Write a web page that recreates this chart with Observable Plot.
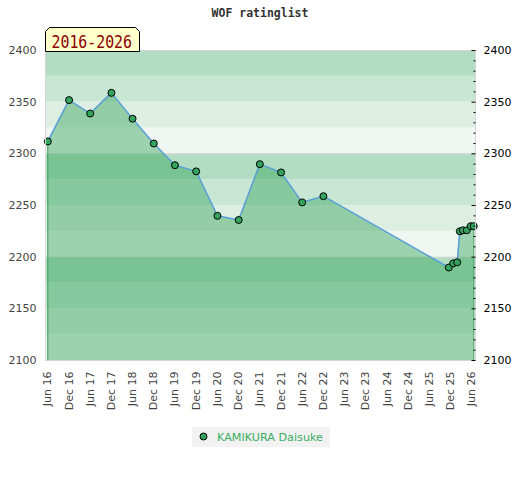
<!DOCTYPE html>
<html><head><meta charset="utf-8">
<script src="https://cdn.jsdelivr.net/npm/d3@7"></script>
<script src="https://cdn.jsdelivr.net/npm/@observablehq/plot@0.6"></script>
<style>
body{margin:0;background:#fff;}
#wrap{position:relative;width:520px;height:480px;}
#chart{position:absolute;left:0;top:0;}
#overlay{position:absolute;left:0;top:0;pointer-events:none;}
</style>
</head><body>
<div id="wrap">
<div id="chart"></div>
<svg id="overlay" width="520" height="480">
 <text x="260" y="16.5" text-anchor="middle" font-family="DejaVu Sans Mono" font-weight="bold" font-size="11.5" fill="#333">WOF ratinglist</text>
 <path d="M45.5,51.5V31.5L49.5,27.5H135.5L139.5,31.5V51.5Z" fill="#ffffcc" stroke="#000"/>
 <text x="51.5" y="48" font-family="DejaVu Sans Mono" font-size="17" textLength="80.5" lengthAdjust="spacingAndGlyphs" fill="#8b0000">2016-2026</text>
 <rect x="192" y="427" width="138" height="20" fill="#f2f2f2"/>
 <circle cx="203.5" cy="436.5" r="3.5" fill="#33a35e" stroke="#000"/>
 <text x="217" y="440.5" font-family="DejaVu Sans" font-size="11.2" fill="#3aae62">KAMIKURA Daisuke</text>
</svg>
</div>
<script>
const dates = ["2016-06-01","2016-12-01","2017-06-01","2017-12-01","2018-06-01","2018-12-01",
  "2019-06-01","2019-12-01","2020-06-01","2020-12-01","2021-06-01","2021-12-01","2022-06-01","2022-12-01",
  "2025-11-15","2025-12-23","2026-01-26","2026-02-18","2026-03-16","2026-04-19","2026-05-23","2026-06-18"];
const ratings = [2312,2352,2339,2359,2334,2310,2289,2283,2240,2236,2290,2282,2253,2259,
  2190,2194,2195,2225,2226,2226,2230,2230];
const xTickDates = ["2016-06-01","2016-12-01","2017-06-01","2017-12-01","2018-06-01","2018-12-01",
  "2019-06-01","2019-12-01","2020-06-01","2020-12-01","2021-06-01","2021-12-01","2022-06-01","2022-12-01",
  "2023-06-01","2023-12-01","2024-06-01","2024-12-01","2025-06-01","2025-12-01","2026-06-01"];
const yMajor = [2100,2150,2200,2250,2300,2350,2400];
const yMinor = [2110,2120,2130,2140,2160,2170,2180,2190,2210,2220,2230,2240,2260,2270,2280,2290,
  2310,2320,2330,2340,2360,2370,2380,2390];
const yGrid = [2100,2200,2300,2400];
const bandLow  = [2100,2125,2150,2175,2200,2225,2250,2275,2300,2325,2350,2375];
const bandHigh = [2125,2150,2175,2200,2225,2250,2275,2300,2325,2350,2375,2400];
const bandFill = ["#f0f7f2","#ddeee3","#c8e6d4","#b3ddc3","#f0f7f2","#ddeee3","#c8e6d4","#b3ddc3",
  "#f0f7f2","#ddeee3","#c8e6d4","#b3ddc3"];

const data = dates.map((d,i)=>({date:new Date(d), rating:ratings[i]}));
const bands = bandLow.map((lo,i)=>({y1:lo, y2:bandHigh[i], fill:bandFill[i]}));
const base = 2100;
const fmt = d => String(d);

const chart = Plot.plot({
  width:520, height:480,
  marginTop:50, marginBottom:120, marginLeft:45, marginRight:45,
  style:{fontFamily:"DejaVu Sans", fontSize:"11px", background:"transparent"},
  x:{type:"utc", domain:[new Date("2016-05-12"), new Date("2026-07-03")]},
  y:{domain:[2100,2400]},
  color:{type:"identity"},
  marks:[
    Plot.rect(bands,{y1:"y1", y2:"y2", fill:"fill"}),
    Plot.ruleY(yGrid,{stroke:"#d6d6d6"}),
    Plot.areaY(data,{x:"date", y1:()=>base, y2:"rating", fill:"rgb(50,165,88)", fillOpacity:0.44}),
    Plot.ruleX([data[0], data[data.length-1]],{x:"date", y1:()=>base, y2:"rating", stroke:"#3a9d5a"}),
    Plot.line(data,{x:"date", y:"rating", stroke:"#5aa0d8", strokeWidth:1.5}),
    Plot.dot(data,{x:"date", y:"rating", r:3.5, fill:"#33a35e", stroke:"#000", strokeWidth:1}),
    Plot.frame({stroke:"#d6d6d6"}),
    Plot.axisX({ticks:xTickDates.map(d=>new Date(d)), tickFormat:d3.utcFormat("%b %y"), tickRotate:-90, tickSize:0, tickPadding:11, fill:"#444", label:null}),
    Plot.axisY({anchor:"left", ticks:yMajor, tickFormat:fmt, tickSize:0, tickPadding:9, fill:"#444", label:null}),
    Plot.axisY({anchor:"right", ticks:yMajor, tickFormat:fmt, tickSize:0, tickPadding:8, fill:"#000", label:null}),
    Plot.axisY({anchor:"right", ticks:yMajor, tickSize:4, dx:-4.5, tickFormat:()=>"", stroke:"#000", label:null}),
    Plot.axisY({anchor:"right", ticks:yMinor, tickSize:2, dx:-2.5, tickFormat:()=>"", stroke:"#000", label:null})
  ]
});
document.getElementById("chart").appendChild(chart);
</script>
</body></html>
